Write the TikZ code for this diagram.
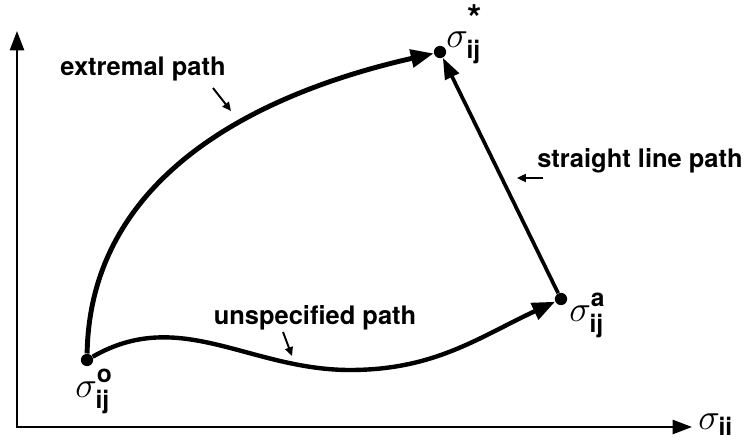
\documentclass[tikz,border=0pt]{standalone}
\usepackage{amsmath}
\usepackage{fontspec}
\setmainfont{TeX Gyre Heros}
\usetikzlibrary{arrows.meta}
\newcommand\sigl[2]{$\sigma^{\text{\raisebox{1.5pt}{\bfseries #1}}}_{\text{\bfseries #2}}$}
\tikzset{
  ptdot/.style={circle,fill,inner sep=0pt,minimum size=7pt},
  lbl/.style={font=\fontsize{14.5}{17}\selectfont\bfseries,inner sep=0pt},
  sig/.style={font=\fontsize{20}{24}\selectfont,inner sep=0pt,anchor=base west},
  axisline/.style={line width=1.3pt,{Triangle[length=11pt,width=8pt]}-{Triangle[length=11pt,width=8pt]}},
  route/.style={line width=2.8pt,-{Triangle[length=13pt,width=10pt]}},
  pointer/.style={line width=1.1pt,-{Triangle[length=5pt,width=4.5pt]}},
}

\begin{document}
\begin{tikzpicture}[x=0.02cm,y=-0.02cm]
  \useasboundingbox (0,0) rectangle (748,442);
  \coordinate (org) at (17,427);
  \coordinate (ytip) at (17,31);
  \coordinate (xtip) at (692,427);
  \draw[axisline] (ytip) -- (org) -- (xtip);

  \node[ptdot] (pto) at (87,360) {};
  \node[ptdot] (ptstar) at (440,52) {};
  \node[ptdot] (pta) at (561,299) {};
  \coordinate (umin) at (350,370);

  \draw[route] (pto) .. controls (90,180) and (250,95) .. (ptstar);
  \draw[route,line width=2.5pt] (pto) to[out=30,in=180] (umin) to[out=0,in=205] (pta);
  \draw[route,line width=2.1pt,-{Triangle[length=12pt,width=8.5pt]}] (pta) -- (ptstar);

  \node[sig] (lblo) at (75,398) {\sigl{o}{ij}};
  \node[sig] (lblstar) at (446,48) {$\sigma^{\text{\raisebox{2pt}{\fontsize{21}{21}\selectfont\bfseries *}}}_{\text{\bfseries ij}}$};
  \node[sig] (lbla) at (569,322) {\sigl{a}{ij}};
  \node[sig] (lblx) at (698,430) {$\sigma_{\text{\bfseries ii}}$};

  \node[lbl] (extlbl) at (143,69) {extremal path};
  \node[lbl] (strlbl) at (640,161) {straight line path};
  \node[lbl] (unslbl) at (315,318) {unspecified path};

  \coordinate (p1s) at (213,88);
  \coordinate (p1e) at (231,111);
  \coordinate (p2s) at (543,178);
  \coordinate (p2e) at (517,178);
  \coordinate (p3s) at (283,332);
  \coordinate (p3e) at (292,356);
  \draw[pointer] (p1s) -- (p1e);
  \draw[pointer] (p2s) -- (p2e);
  \draw[pointer] (p3s) -- (p3e);
\end{tikzpicture}
\end{document}
